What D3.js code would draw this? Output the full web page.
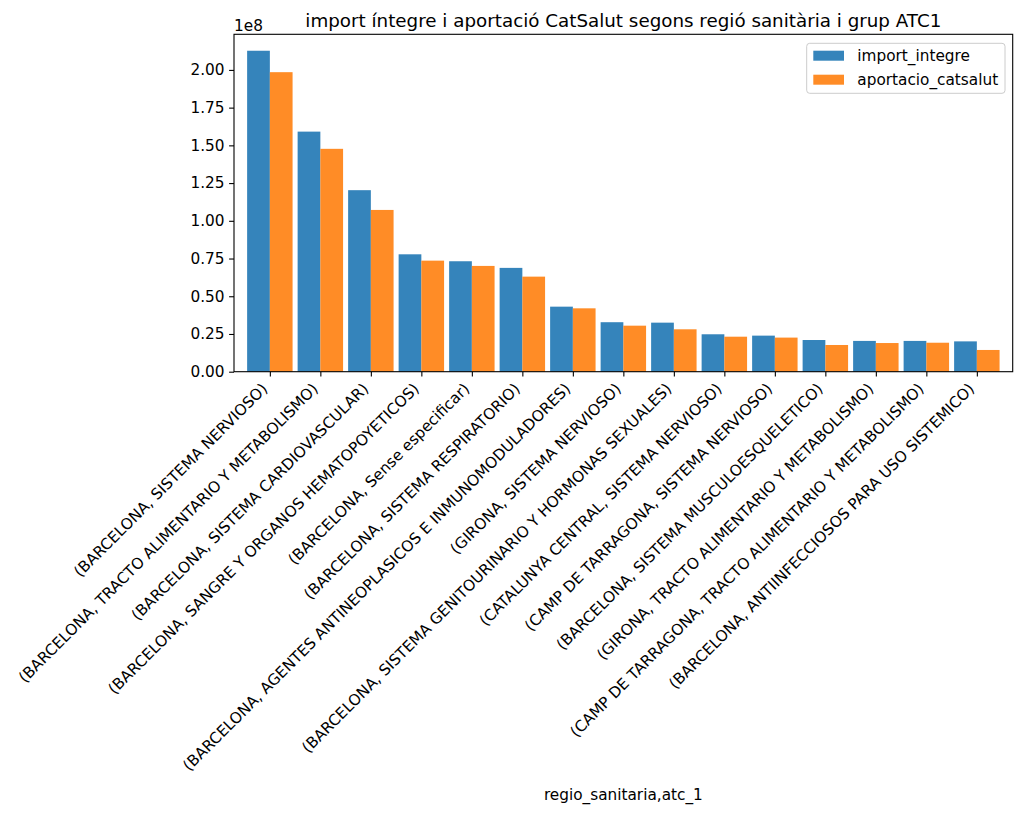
<!DOCTYPE html>
<html>
<head>
<meta charset="utf-8">
<script src="https://cdn.jsdelivr.net/npm/d3@7"></script>
<style>
  body { margin: 0; background: #fff; }
  svg { font-family: "DejaVu Sans", sans-serif; }
</style>
</head>
<body>
<div id="vis"></div>
<script>
const categories = [
  "(BARCELONA, SISTEMA NERVIOSO)",
  "(BARCELONA, TRACTO ALIMENTARIO Y METABOLISMO)",
  "(BARCELONA, SISTEMA CARDIOVASCULAR)",
  "(BARCELONA, SANGRE Y ORGANOS HEMATOPOYETICOS)",
  "(BARCELONA, Sense especificar)",
  "(BARCELONA, SISTEMA RESPIRATORIO)",
  "(BARCELONA, AGENTES ANTINEOPLASICOS E INMUNOMODULADORES)",
  "(GIRONA, SISTEMA NERVIOSO)",
  "(BARCELONA, SISTEMA GENITOURINARIO Y HORMONAS SEXUALES)",
  "(CATALUNYA CENTRAL, SISTEMA NERVIOSO)",
  "(CAMP DE TARRAGONA, SISTEMA NERVIOSO)",
  "(BARCELONA, SISTEMA MUSCULOESQUELETICO)",
  "(GIRONA, TRACTO ALIMENTARIO Y METABOLISMO)",
  "(CAMP DE TARRAGONA, TRACTO ALIMENTARIO Y METABOLISMO)",
  "(BARCELONA, ANTIINFECCIOSOS PARA USO SISTEMICO)"
];

const importIntegre = [
  2.127e8, 1.591e8, 1.203e8, 0.778e8, 0.732e8, 0.688e8, 0.431e8, 0.328e8,
  0.325e8, 0.248e8, 0.239e8, 0.210e8, 0.204e8, 0.204e8, 0.201e8
];

const aportacioCatsalut = [
  1.985e8, 1.477e8, 1.072e8, 0.736e8, 0.701e8, 0.630e8, 0.420e8, 0.305e8,
  0.281e8, 0.232e8, 0.226e8, 0.177e8, 0.190e8, 0.192e8, 0.144e8
];

const seriesNames = ["import_integre", "aportacio_catsalut"];
const seriesColors = ["#1f77b4", "#ff7f0e"];
const yTicks = [0, 0.25e8, 0.5e8, 0.75e8, 1e8, 1.25e8, 1.5e8, 1.75e8, 2e8];

const width = 1024;
const height = 815;
const margin = {left: 234, top: 34.3, right: 1024 - 1012.7, bottom: 815 - 371.7};
const fs = 15.3;

const svg = d3.select("#vis").append("svg")
    .attr("width", width)
    .attr("height", height);

const x = d3.scaleLinear()
    .domain([-0.71, categories.length - 1 + 0.71])
    .range([margin.left, width - margin.right]);

const y = d3.scaleLinear()
    .domain([0, 2.236e8])
    .range([height - margin.bottom, margin.top]);

const barW = 0.45;
const series = [importIntegre, aportacioCatsalut];

series.forEach((vals, s) => {
  svg.append("g")
    .selectAll("rect")
    .data(vals)
    .join("rect")
      .attr("x", (d, i) => x(i - barW + s * barW))
      .attr("width", x(barW) - x(0))
      .attr("y", d => y(d))
      .attr("height", d => y(0) - y(d))
      .attr("fill", seriesColors[s])
      .attr("fill-opacity", 0.9);
});

// y axis
const yAxis = svg.append("g")
    .attr("transform", `translate(${margin.left},0)`)
    .call(d3.axisLeft(y).tickValues(yTicks)
      .tickFormat(d => (d / 1e8).toFixed(2))
      .tickSize(4.9).tickPadding(4.6));
yAxis.select(".domain").remove();
yAxis.selectAll("line").attr("stroke", "#000").attr("stroke-width", 1.1);
yAxis.selectAll("text").attr("font-size", fs).attr("fill", "#000")
    .attr("font-family", "DejaVu Sans");

// x axis
const xAxis = svg.append("g")
    .attr("transform", `translate(0,${y(0)})`)
    .call(d3.axisBottom(x).tickValues(d3.range(categories.length))
      .tickFormat(i => categories[i]).tickSize(4.9));
xAxis.select(".domain").remove();
xAxis.selectAll("line").attr("stroke", "#000").attr("stroke-width", 1.1);
xAxis.selectAll("text")
    .attr("font-size", fs)
    .attr("font-family", "DejaVu Sans")
    .attr("fill", "#000")
    .attr("text-anchor", "end")
    .attr("y", 0).attr("dy", 0)
    .attr("transform", "translate(-2,18) rotate(-45)");

// frame
svg.append("rect")
    .attr("x", margin.left)
    .attr("y", margin.top)
    .attr("width", width - margin.right - margin.left)
    .attr("height", height - margin.bottom - margin.top)
    .attr("fill", "none")
    .attr("stroke", "#000")
    .attr("stroke-width", 1.1);

// offset text, title, x label
svg.append("text")
    .attr("x", margin.left)
    .attr("y", 30.7)
    .attr("font-size", fs)
    .text("1e8");

svg.append("text")
    .attr("x", (margin.left + width - margin.right) / 2)
    .attr("y", 26.7)
    .attr("text-anchor", "middle")
    .attr("font-size", 18.3)
    .text("import íntegre i aportació CatSalut segons regió sanitària i grup ATC1");

svg.append("text")
    .attr("x", (margin.left + width - margin.right) / 2)
    .attr("y", 800)
    .attr("text-anchor", "middle")
    .attr("font-size", fs)
    .text("regio_sanitaria,atc_1");

// legend
const legend = svg.append("g").attr("transform", "translate(806.7,43.3)");
legend.append("rect")
    .attr("width", 198.3)
    .attr("height", 50)
    .attr("rx", 3)
    .attr("fill", "#fff")
    .attr("fill-opacity", 0.8)
    .attr("stroke", "#ccc");
seriesNames.forEach((name, s) => {
  legend.append("rect")
      .attr("x", 6.6)
      .attr("y", 7.4 + s * 24)
      .attr("width", 30.7)
      .attr("height", 10)
      .attr("fill", seriesColors[s])
      .attr("fill-opacity", 0.9);
  legend.append("text")
      .attr("x", 50.6)
      .attr("y", 17.4 + s * 24)
      .attr("font-size", fs)
      .text(name);
});
</script>
</body>
</html>
